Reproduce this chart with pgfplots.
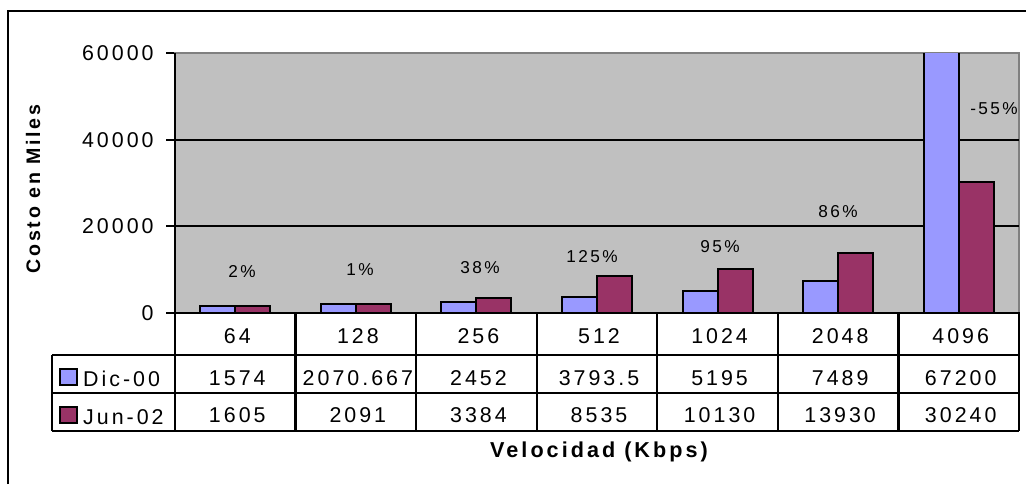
\documentclass[border=0pt]{standalone}
\usepackage{fontspec}
\setmainfont{Liberation Sans}
\newfontfamily\lsfont[LetterSpace=14]{Liberation Sans}
\usepackage{pgfplots}
\usepackage{pgfplotstable}
\pgfplotsset{compat=1.18}
\definecolor{dic}{HTML}{9999FF}
\definecolor{jun}{HTML}{993366}
\definecolor{plotbg}{HTML}{C0C0C0}
\definecolor{frame}{HTML}{808080}

% costo en miles por velocidad (Kbps)
\pgfplotstableread{
idx vel  dic      jun
0   64   1574     1605
1   128  2070.667 2091
2   256  2452     3384
3   512  3793.5   8535
4   1024 5195     10130
5   2048 7489     13930
6   4096 67200    30240
}\datos

\newcommand{\tabfont}{\fontsize{10.7}{12}\lsfont}
\newcommand{\pctfont}{\fontsize{8.6}{10}\lsfont}
\newcommand{\xtitfont}{\fontsize{10.8}{12}\lsfont\bfseries}
\newcommand{\ytitfont}{\fontsize{9.8}{11}\lsfont\bfseries}

\begin{document}
\begin{tikzpicture}
\useasboundingbox (0,0) rectangle (513pt,-242pt);
\begin{axis}[
  at={(87.5pt,-156.5pt)}, anchor=south west,
  scale only axis, width=422pt, height=130pt,
  xmin=-0.5, xmax=6.5, ymin=0, ymax=60000,
  ybar=0pt, bar width=0.29,
  xtick=\empty,
  scaled y ticks=false,
  ytick={0,20000,40000,60000}, yticklabels={0,20000,40000,60000},
  ytick pos=left, tick align=outside, major tick length=4.5pt,
  tick style={black, line width=1pt},
  extra y ticks={20000,40000}, extra y tick labels={},
  extra y tick style={grid=major, major tick length=0pt},
  grid style={black, line width=1pt},
  axis background/.style={fill=plotbg},
  axis line style={frame, line width=1pt},
  yticklabel style={font=\tabfont, anchor=east, inner sep=0pt, xshift=-6pt},
]
\addplot[fill=dic, draw=black, line width=1pt] table[x=idx,y=dic]{\datos};
\addplot[fill=jun, draw=black, line width=1pt] table[x=idx,y=jun]{\datos};
\end{axis}
\begin{scope}[x=0.5pt, y=-0.5pt, line width=1.2pt]
  % marco exterior
  \draw (8,484) -- (8,11) -- (1026,11);
  % eje y y base
  \draw (175,53) -- (175,431);
  \draw (175,313) -- (1019,313) -- (1019,431);
  % tabla de datos
  \foreach \k in {1,...,6} \draw ({175+\k*120.571},313) -- ({175+\k*120.571},431);
  \foreach \yy in {355,393,431} \draw (52,\yy) -- (1019,\yy);
  \draw (52,355) -- (52,431);
  \foreach \t [count=\i from 0] in {64,128,256,512,1024,2048,4096}
    \node[font=\tabfont, anchor=base, inner sep=0pt] at ({177+(\i+0.5)*120.571},343.3) {\t};
  \foreach \t [count=\i from 0] in {1574,2070.667,2452,3793.5,5195,7489,67200}
    \node[font=\tabfont, anchor=base, inner sep=0pt] at ({177+(\i+0.5)*120.571},385) {\t};
  \foreach \t [count=\i from 0] in {1605,2091,3384,8535,10130,13930,30240}
    \node[font=\tabfont, anchor=base, inner sep=0pt] at ({177+(\i+0.5)*120.571},422.7) {\t};
  % leyenda
  \draw[fill=dic, line width=1pt] (59.5,368.5) rectangle (76.5,385);
  \draw[fill=jun, line width=1pt] (59.5,406.5) rectangle (76.5,423);
  \node[font=\tabfont, anchor=base west, inner sep=0pt] at (82,386.7) {Dic-00};
  \node[font=\tabfont, anchor=base west, inner sep=0pt] at (82,424) {Jun-02};
  % variaciones
  \foreach \xx/\yy/\t in {242/272/2\%, 360/270/1\%, 480/268/38\%, 592/257/125\%,
      720/247/95\%, 838/212/86\%, 994/109/-55\%}
    \node[font=\pctfont, inner sep=0pt] at (\xx,\yy) {\t};
  % titulos
  \node[font=\xtitfont, inner sep=0pt] at (599,452) {Velocidad (Kbps)};
  \node[font=\ytitfont, inner sep=0pt, rotate=90] at (33,189) {Costo en Miles};
\end{scope}
\end{tikzpicture}
\end{document}
